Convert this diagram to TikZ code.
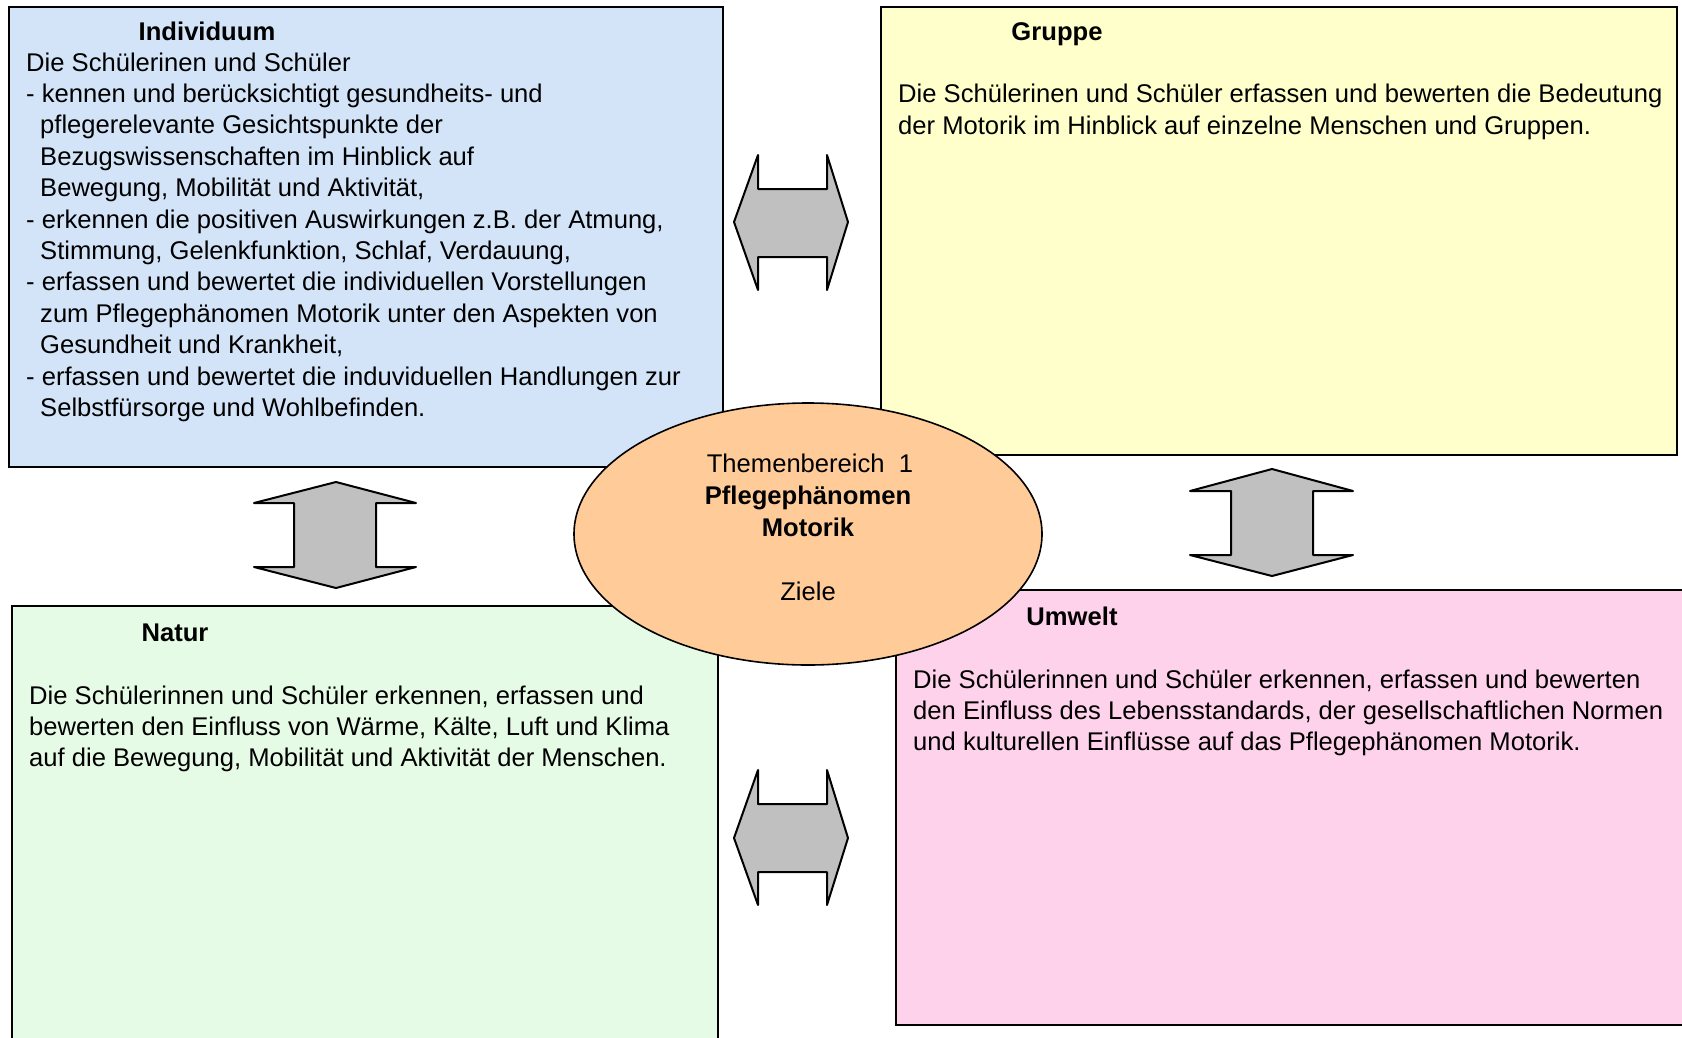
\documentclass[tikz,border=0pt]{standalone}
\usepackage{fontspec}
\setmainfont{Liberation Sans}
\begin{document}
\begin{tikzpicture}[x=1pt,y=-1pt,
  box/.style={draw=black,line width=1.8pt},
  txt/.style={anchor=base west,inner sep=0pt,font=\fontsize{25.6}{31.4}\selectfont},
  ttl/.style={anchor=base,inner sep=0pt,font=\fontsize{25.6}{31.4}\selectfont\bfseries},
  ctr/.style={anchor=base,inner sep=0pt,font=\fontsize{25.6}{31.4}\selectfont},
  dblarrow/.style={draw=black,fill=arrowgray,line width=2pt,line join=round}]
\definecolor{indblue}{HTML}{D3E4F8}
\definecolor{grpyellow}{HTML}{FFFFCC}
\definecolor{natgreen}{HTML}{E6FBE6}
\definecolor{umwpink}{HTML}{FFD2EC}
\definecolor{peach}{HTML}{FFCC99}
\definecolor{arrowgray}{HTML}{C0C0C0}
\useasboundingbox (0,0) rectangle (1682,1037);
% boxes
\draw[box,fill=indblue] (9,7) rectangle (723,467);
\draw[box,fill=grpyellow] (881,7) rectangle (1677,455);
\draw[box,fill=natgreen] (12,606) rectangle (718,1045);
\draw[box,fill=umwpink] (896,590) rectangle (1695,1025);
% Individuum
\node[ttl] (indT) at (207,40) {Individuum};
\node[txt] (ind0) at (26,71) {Die Schülerinen und Schüler};
\node[txt] (ind1) at (26,102.4) {- kennen und berücksichtigt gesundheits- und};
\node[txt] (ind2) at (40,133.8) {pflegerelevante Gesichtspunkte der};
\node[txt] (ind3) at (40,165.2) {Bezugswissenschaften im Hinblick auf};
\node[txt] (ind4) at (40,196.6) {Bewegung, Mobilität und Aktivität,};
\node[txt] (ind5) at (26,228) {- erkennen die positiven Auswirkungen z.B. der Atmung,};
\node[txt] (ind6) at (40,259.4) {Stimmung, Gelenkfunktion, Schlaf, Verdauung,};
\node[txt] (ind7) at (26,290.8) {- erfassen und bewertet die individuellen Vorstellungen};
\node[txt] (ind8) at (40,322.2) {zum Pflegephänomen Motorik unter den Aspekten von};
\node[txt] (ind9) at (40,353.6) {Gesundheit und Krankheit,};
\node[txt] (ind10) at (26,385) {- erfassen und bewertet die induviduellen Handlungen zur};
\node[txt] (ind11) at (40,416.4) {Selbstfürsorge und Wohlbefinden.};
% Gruppe
\node[ttl] (grpT) at (1057,40) {Gruppe};
\node[txt] (grp1) at (898,102.8) {Die Schülerinen und Schüler erfassen und bewerten die Bedeutung};
\node[txt] (grp2) at (898,134.2) {der Motorik im Hinblick auf einzelne Menschen und Gruppen.};
% Natur
\node[ttl] (natT) at (175,641) {Natur};
\node[txt] (nat1) at (29,704) {Die Schülerinnen und Schüler erkennen, erfassen und};
\node[txt] (nat2) at (29,735.4) {bewerten den Einfluss von Wärme, Kälte, Luft und Klima};
\node[txt] (nat3) at (29,766.8) {auf die Bewegung, Mobilität und Aktivität der Menschen.};
% Umwelt
\node[ttl] (umwT) at (1072,625) {Umwelt};
\node[txt] (umw1) at (913,688) {Die Schülerinnen und Schüler erkennen, erfassen und bewerten};
\node[txt] (umw2) at (913,719.4) {den Einfluss des Lebensstandards, der gesellschaftlichen Normen};
\node[txt] (umw3) at (913,750.8) {und kulturellen Einflüsse auf das Pflegephänomen Motorik.};
% centre ellipse
\draw[fill=peach,draw=black,line width=1.6pt] (808,534) ellipse [x radius=234,y radius=131];
\node[ctr] (ell1) at (810,472) {Themenbereich\ \ 1};
\node[ttl] (ell2) at (808,504) {Pflegephänomen};
\node[ttl] (ell3) at (808,536) {Motorik};
\node[ctr] (ell4) at (808,600) {Ziele};
% double arrows
\draw[dblarrow] (734,222) -- (758,155) -- (758,189) -- (827,189) -- (827,155) -- (848,222)
  -- (827,290) -- (827,257) -- (758,257) -- (758,290) -- cycle;
\draw[dblarrow] (734,838) -- (758,770) -- (758,804) -- (827,804) -- (827,770) -- (848,838)
  -- (827,905) -- (827,872) -- (758,872) -- (758,905) -- cycle;
\draw[dblarrow] (336,482) -- (416,503) -- (376,503) -- (376,567) -- (416,567) -- (336,588)
  -- (254,567) -- (294,567) -- (294,503) -- (254,503) -- cycle;
\draw[dblarrow] (1272,469) -- (1353,491) -- (1313,491) -- (1313,555) -- (1353,555) -- (1272,576)
  -- (1190,555) -- (1231,555) -- (1231,491) -- (1190,491) -- cycle;
\end{tikzpicture}
\end{document}
